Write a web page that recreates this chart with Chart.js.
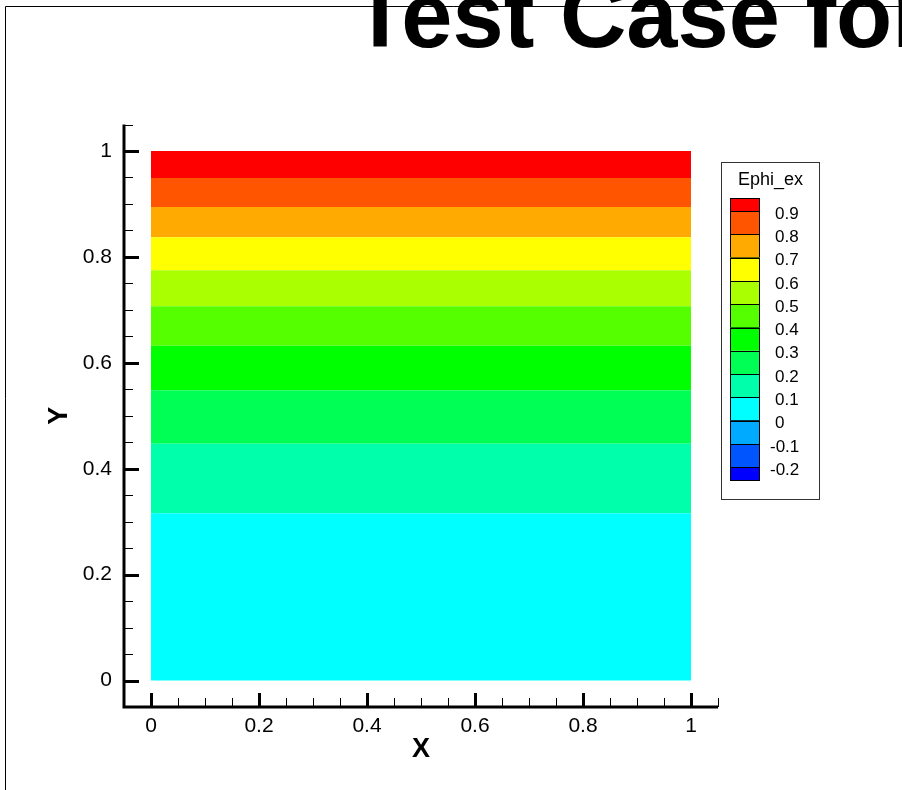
<!DOCTYPE html>
<html>
<head>
<meta charset="utf-8">
<style>
  html, body { margin: 0; padding: 0; background: #fff; }
  #wrap { position: relative; width: 902px; height: 790px; overflow: hidden; }
  canvas { display: block; }
</style>
<script src="https://cdn.jsdelivr.net/npm/chart.js@4/dist/chart.umd.min.js"></script>
</head>
<body>
<div id="wrap"><canvas id="c" width="902" height="790"></canvas></div>
<script>
// ---- data ----
const chartTitle = 'Test Case for';
const xTitle = 'X';
const yTitle = 'Y';
const legendTitle = 'Ephi_ex';
// band edges in Y (contour levels of Ephi_ex crossing the domain), bottom -> top
const bandEdges = [0, 0.316, 0.447, 0.548, 0.632, 0.707, 0.775, 0.837, 0.894, 0.949, 1.0];
// colour of each band between consecutive edges, bottom -> top
const bandColors = ['#00FFFF', '#00FFAA', '#00FF55', '#00FF00', '#55FF00', '#AAFF00', '#FFFF00', '#FFAA00', '#FF5500', '#FF0000'];
const xExtent = [0, 1];
// axis ticks
const xTickValues = [0, 0.2, 0.4, 0.6, 0.8, 1];
const yTickValues = [0, 0.2, 0.4, 0.6, 0.8, 1];
const tickLabels = ['0', '0.2', '0.4', '0.6', '0.8', '1'];
const axisRange = [-0.05, 1.05];
const minorStep = 0.05;
// legend (top -> bottom)
const legendLevels = ['0.9', '0.8', '0.7', '0.6', '0.5', '0.4', '0.3', '0.2', '0.1', '0', '-0.1', '-0.2'];
const legendColors = ['#FF0000', '#FF5500', '#FFAA00', '#FFFF00', '#AAFF00', '#55FF00', '#00FF00', '#00FF55', '#00FFAA', '#00FFFF', '#00AAFF', '#0055FF', '#0000FF'];

const FONT = '"Liberation Sans", Arial, Helvetica, sans-serif';

const datasets = bandColors.map((col, i) => ({
  data: xExtent.map(x => ({ x: x, y: bandEdges[i + 1] })),
  backgroundColor: col,
  borderColor: col,
  borderWidth: 0,
  pointRadius: 0,
  fill: i === 0 ? { value: bandEdges[0] } : '-1'
}));

function labelFor(values, v) {
  const i = values.findIndex(t => Math.abs(t - v) < 1e-9);
  return i >= 0 ? tickLabels[i] : '';
}

const decor = {
  id: 'decor',
  beforeDraw(chart) {
    const ctx = chart.ctx;
    ctx.save();
    ctx.fillStyle = '#fff';
    ctx.fillRect(0, 0, chart.width, chart.height);
    ctx.restore();
  },
  afterDraw(chart) {
    const ctx = chart.ctx;
    const xs = chart.scales.x, ys = chart.scales.y;
    const a = chart.chartArea;
    ctx.save();
    // page frame
    ctx.strokeStyle = '#000';
    ctx.lineWidth = 1;
    ctx.beginPath();
    ctx.moveTo(5.5, chart.height);
    ctx.lineTo(5.5, 6.5);
    ctx.lineTo(chart.width, 6.5);
    ctx.stroke();
    // title (partly outside the page, as in the source)
    ctx.fillStyle = '#000';
    ctx.font = 'bold 92px ' + FONT;
    ctx.textBaseline = 'alphabetic';
    ctx.textAlign = 'left';
    ctx.fillText(chartTitle, 352, 47);

    // axis lines
    ctx.lineWidth = 3;
    ctx.beginPath();
    ctx.moveTo(a.left, a.top);
    ctx.lineTo(a.left, a.bottom + 1.5);
    ctx.moveTo(a.left - 1.5, a.bottom);
    ctx.lineTo(a.right, a.bottom);
    ctx.stroke();
    // major ticks (inward)
    ctx.lineWidth = 3;
    ctx.beginPath();
    xTickValues.forEach(v => {
      const px = Math.round(xs.getPixelForValue(v)) + 0.5;
      ctx.moveTo(px, a.bottom);
      ctx.lineTo(px, a.bottom - 14);
    });
    yTickValues.forEach(v => {
      const py = Math.round(ys.getPixelForValue(v)) + 0.5;
      ctx.moveTo(a.left, py);
      ctx.lineTo(a.left + 15, py);
    });
    ctx.stroke();
    // minor ticks
    ctx.lineWidth = 1;
    ctx.beginPath();
    for (let k = 1; k * minorStep <= axisRange[1] + 1e-9; k++) {
      const v = +(k * minorStep).toFixed(4);
      if (xTickValues.some(t => Math.abs(t - v) < 1e-9)) continue;
      const px = Math.round(xs.getPixelForValue(v)) + 0.5;
      ctx.moveTo(px, a.bottom);
      ctx.lineTo(px, a.bottom - 9);
      const py = Math.round(ys.getPixelForValue(v)) + 0.5;
      ctx.moveTo(a.left, py);
      ctx.lineTo(a.left + 9, py);
    }
    ctx.stroke();

    // colour-bar legend
    const bx = 721.5, by = 162.5, bw = 98, bh = 337;
    ctx.lineWidth = 1;
    ctx.strokeStyle = '#333';
    ctx.strokeRect(bx, by, bw, bh);
    ctx.fillStyle = '#000';
    ctx.font = '18px ' + FONT;
    ctx.textAlign = 'center';
    ctx.textBaseline = 'middle';
    ctx.fillText(legendTitle, bx + bw / 2, 180);
    const sx = 730, sw = 30, top = 198, endH = 13, midH = 23.3;
    let y = top;
    const edges = [];
    legendColors.forEach((col, i) => {
      const h = (i === 0 || i === legendColors.length - 1) ? endH : midH;
      ctx.fillStyle = col;
      ctx.fillRect(sx, y, sw, h);
      ctx.strokeStyle = '#000';
      ctx.strokeRect(sx + 0.5, Math.round(y) + 0.5, sw - 1, Math.round(h));
      y += h;
      if (i < legendColors.length - 1) edges.push(y);
    });
    ctx.fillStyle = '#000';
    ctx.font = '17px ' + FONT;
    ctx.textAlign = 'left';
    legendLevels.forEach((lab, i) => {
      const lx = lab.startsWith('-') ? 770 : 775;
      ctx.fillText(lab, lx, edges[i] + 3);
    });
    ctx.restore();
  }
};

new Chart(document.getElementById('c'), {
  type: 'line',
  data: { datasets: datasets },
  options: {
    responsive: false,
    animation: false,
    devicePixelRatio: 1,
    events: [],
    layout: { padding: { top: 124.5, right: 184, bottom: 0, left: 0 } },
    plugins: { legend: { display: false }, tooltip: { enabled: false }, title: { display: false } },
    elements: { line: { tension: 0 } },
    scales: {
      x: {
        type: 'linear',
        min: axisRange[0], max: axisRange[1],
        grid: { display: false, drawTicks: false },
        border: { display: false },
        afterBuildTicks: s => { s.ticks = xTickValues.map(v => ({ value: v })); },
        afterFit: s => { s.height = 83; },
        ticks: {
          color: '#000', padding: 7, maxRotation: 0, autoSkip: false,
          font: { family: FONT, size: 21 },
          callback: v => labelFor(xTickValues, v)
        },
        title: { display: true, text: xTitle, color: '#000', font: { family: FONT, size: 27, weight: 'bold' }, padding: { top: 0, bottom: 24 } }
      },
      y: {
        type: 'linear',
        min: axisRange[0], max: axisRange[1],
        grid: { display: false, drawTicks: false },
        border: { display: false },
        afterBuildTicks: s => { s.ticks = yTickValues.map(v => ({ value: v })); },
        afterFit: s => { s.width = 124; },
        ticks: {
          color: '#000', padding: 12, autoSkip: false,
          font: { family: FONT, size: 21 },
          callback: v => labelFor(yTickValues, v)
        },
        title: { display: true, text: yTitle, color: '#000', font: { family: FONT, size: 27, weight: 'bold' }, padding: { top: 43, bottom: 0 } }
      }
    }
  },
  plugins: [decor]
});
</script>
</body>
</html>
